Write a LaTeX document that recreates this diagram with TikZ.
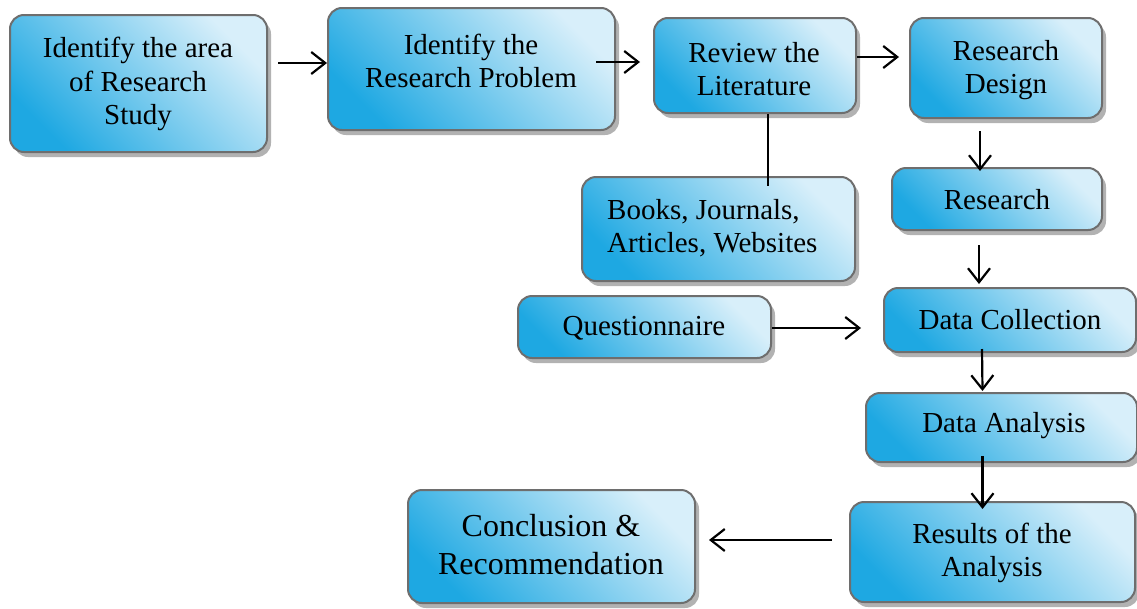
\documentclass[tikz,border=0pt]{standalone}
\usepackage{fontspec}
\setmainfont{Liberation Serif}
\usetikzlibrary{arrows.meta,shadows}
\definecolor{cdark}{RGB}{30,168,226}
\definecolor{clight}{RGB}{216,239,250}
\definecolor{cborder}{RGB}{110,110,110}
\begin{document}
\begin{tikzpicture}[x=1pt,y=-1pt,
 box/.style={draw=cborder, line width=2pt, rounded corners=14pt,
   top color=clight, bottom color=cdark, shading angle=-45,
   drop shadow={shadow xshift=4pt, shadow yshift=-5pt, fill=black!30, opacity=1},
   inner sep=0pt},
 txt/.style={font=\fontsize{29}{33.5}\selectfont, align=center, inner sep=0pt},
 arr/.style={-{Straight Barb[length=14pt,width=22pt]}, line width=2.2pt, black},
 ln/.style={line width=2.2pt, black}]
\useasboundingbox (0,0) rectangle (1137,608);
% boxes
\node[box, minimum width=257pt, minimum height=137pt] (b1) at (138.5,83.5) {};
\node[txt] (t1) at (138,84) {Identify the area\\of Research\\Study};
\node[box, minimum width=287pt, minimum height=122pt] (b2) at (471.5,69) {};
\node[txt] (t2) at (471,61) {Identify the\\Research Problem};
\node[box, minimum width=202pt, minimum height=95pt] (b3) at (755,65.5) {};
\node[txt] (t3) at (754,69) {Review the\\Literature};
\node[box, minimum width=192pt, minimum height=100pt] (b4) at (1006,68) {};
\node[txt] (t4) at (1006,70) {Research\\Design};
\node[box, minimum width=273pt, minimum height=104pt] (b5) at (718.5,229) {};
\node[txt, align=left, anchor=west] (t5) at (607,228) {Books, Journals,\\Articles, Websites};
\node[box, minimum width=210pt, minimum height=62pt] (b6) at (997,199) {};
\node[txt] (t6) at (997,200) {Research};
\node[box, minimum width=253pt, minimum height=62pt] (b7) at (644.5,327) {};
\node[txt] (t7) at (644,328) {Questionnaire};
\node[box, minimum width=252pt, minimum height=64pt] (b8) at (1010,320) {};
\node[txt] (t8) at (1010,320) {Data Collection};
\node[box, minimum width=271pt, minimum height=69pt] (b9) at (1001.5,427.5) {};
\node[txt] (t9) at (1004,426) {Data Analysis};
\node[box, minimum width=285pt, minimum height=100pt] (b10) at (992.5,552) {};
\node[txt] (t10) at (992,553) {Results of the\\Analysis};
\node[box, minimum width=287pt, minimum height=113pt] (b11) at (551.5,546.5) {};
\node[txt, font=\fontsize{32}{38}\selectfont] (t11) at (551,545) {Conclusion \&\\Recommendation};
% connectors
\draw[arr] ([shift={(10,-20.5)}]b1.east) -- ([shift={(0,-6)}]b2.west);
\draw[arr] ([shift={(-20,-7)}]b2.east) -- ([shift={(-13,-3.5)}]b3.west);
\draw[arr] ([shift={(0,-8.5)}]b3.east) -- ([shift={(-10,-11)}]b4.west);
\draw[ln] ([shift={(13,0)}]b3.south) -- ([shift={(49.5,10)}]b5.north);
\draw[arr] ([shift={(-26,12)}]b4.south) -- ([shift={(-17,4)}]b6.north);
\draw[arr] ([shift={(-18,14)}]b6.south) -- ([shift={(-31,-3)}]b8.north);
\draw[arr] ([shift={(0,1)}]b7.east) -- ([shift={(-22,8)}]b8.west);
\draw[arr] ([shift={(-28,-4)}]b8.south) -- ([shift={(-19,-1)}]b9.north);
\draw[arr] ([shift={(-19,-7)}]b9.south) -- ([shift={(-10,8)}]b10.north);
\draw[arr] ([shift={(-17,-12)}]b10.west) -- ([shift={(13,-6.5)}]b11.east);
\end{tikzpicture}
\end{document}
